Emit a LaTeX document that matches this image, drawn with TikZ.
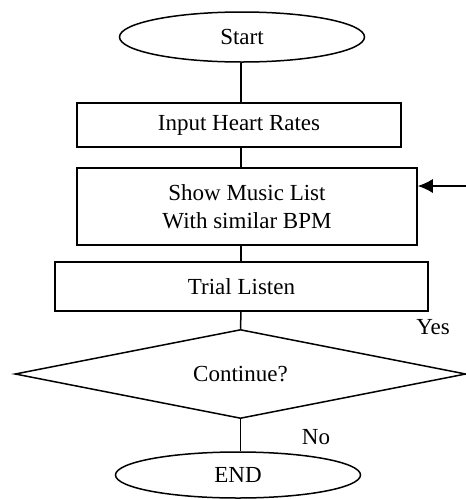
\documentclass[tikz,border=0pt]{standalone}
\usepackage{fontspec}
\setmainfont{Liberation Serif}
\usetikzlibrary{shapes.geometric,arrows.meta}

\begin{document}
\begin{tikzpicture}[x=1pt,y=-1pt,line width=1.5pt,
    font=\fontsize{23}{28}\selectfont]

      \useasboundingbox (0,0) rectangle (466,499);

      \begin{scope}[every node/.style={draw,inner sep=0pt}]
        \node[ellipse,minimum width=245pt,minimum height=50pt] (start) at (242,37) {Start};
        \node[rectangle,minimum width=324pt,minimum height=44pt] (input) at (239,125) {Input Heart Rates};
        \node[rectangle,minimum width=340pt,minimum height=77pt,align=center] (show) at (247,206.5) {Show Music List\\With similar BPM};
        \node[rectangle,minimum width=373pt,minimum height=49pt] (trial) at (241.5,286.5) {Trial Listen};
        \node[diamond,aspect=5,minimum width=451pt,minimum height=89pt] (cont) at (240.5,374) {Continue?};
        \node[ellipse,minimum width=245pt,minimum height=46pt] (end) at (238,475) {END};
      \end{scope}

      \node (yes) at (433,327) {Yes};
      \node (no)  at (316,437) {No};

      \coordinate (back) at (466,186);

      \draw (start.south -| 241,0) -- (241,0 |- input.north);
      \draw (input.south -| 241,0) -- (241,0 |- show.north);
      \draw (show.south -| 241,0)  -- (241,0 |- trial.north);
      \draw (trial.south -| 241,0) -- (cont.north);
      \draw (cont.south) -- (cont.south |- end.north);
      \draw[-{Latex[length=15pt,width=14pt]}] (back) -- (show.east |- back);

    \end{tikzpicture}
\end{document}
